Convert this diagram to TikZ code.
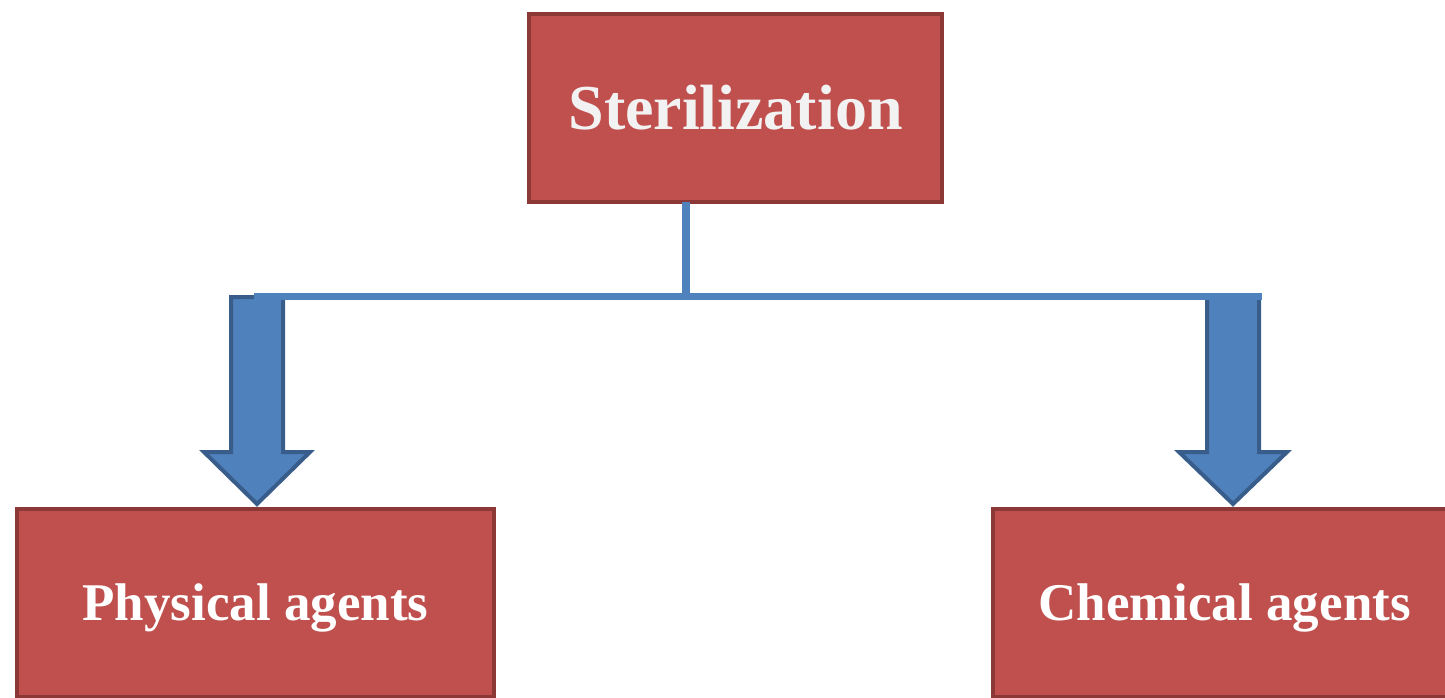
\documentclass[tikz,border=0pt]{standalone}
\usepackage{fontspec}
\setmainfont{Liberation Serif}
\definecolor{boxfill}{HTML}{C0504D}
\definecolor{boxline}{HTML}{8C3836}
\definecolor{arrfill}{HTML}{4F81BD}
\definecolor{arrline}{HTML}{385D8A}
\definecolor{toptext}{HTML}{F2F2F2}
\begin{document}
\begin{tikzpicture}[x=1pt,y=-1pt,
  box/.style={draw=boxline,fill=boxfill,line width=4pt,text=white,inner sep=0pt,anchor=north west,text depth=0pt},
  blockarrow/.style={draw=arrline,fill=arrfill,line width=4pt,line join=miter},
  conn/.style={draw=arrfill,line width=8pt}]
\useasboundingbox (0,0) rectangle (1445,698);
\clip (0,0) rectangle (1445,698);
\node[box,text=toptext,text height=43pt,minimum width=413pt,minimum height=188pt,font=\bfseries\fontsize{64}{70}\selectfont] (top) at (527,12) {Sterilization};
\node[box,text height=34pt,minimum width=477pt,minimum height=188pt,font=\bfseries\fontsize{53}{60}\selectfont] (phys) at (15,507) {Physical agents};
\node[box,text height=34pt,minimum width=463pt,minimum height=188pt,font=\bfseries\fontsize{53}{60}\selectfont] (chem) at (991,507) {Chemical agents};
\coordinate (topfoot) at (686,202);
\coordinate (hub) at (686,296);
\coordinate (hl) at (254,296);
\coordinate (hr) at (1262,296);
% block arrows
\draw[blockarrow] (231,297) -- (283,297) -- (283,452) -- (310,452) -- (257,504) -- (204,452) -- (231,452) -- cycle;
\draw[blockarrow] (1207,297) -- (1259,297) -- (1259,452) -- (1287,452) -- (1233,504) -- (1179,452) -- (1207,452) -- cycle;
\draw[conn] (topfoot) -- (hub);
\draw[conn,line width=7pt] (hl) -- (hr);
\end{tikzpicture}
\end{document}
